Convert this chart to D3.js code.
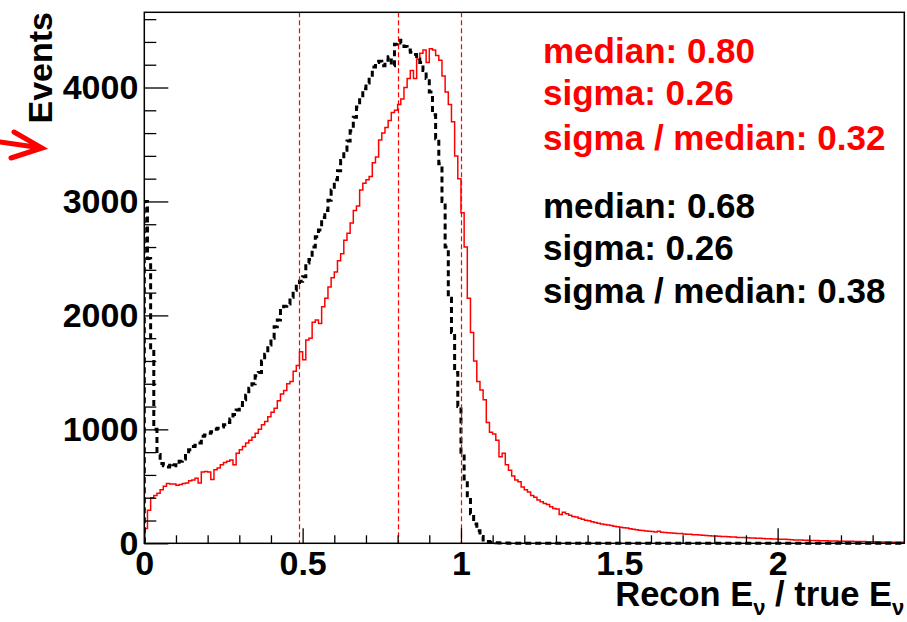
<!DOCTYPE html>
<html>
<head>
<meta charset="utf-8">
<script src="https://cdn.jsdelivr.net/npm/d3@7"></script>
<style>
html,body{margin:0;padding:0;background:#fff;}
text{font-family:"Liberation Sans",Arial,Helvetica,sans-serif;font-weight:bold;}
</style>
</head>
<body>
<svg id="chart" width="907" height="622"></svg>
<script>
// ---- data ----
const binWidth = 0.01;
const xDomain = [0, 2.4];
const yDomain = [0, 4660];
const yMajorTicks = [0, 1000, 2000, 3000, 4000];
const xMajorTicks = [0, 0.5, 1, 1.5, 2];
const xTickLabels = ["0", "0.5", "1", "1.5", "2"];
const yTickLabels = ["0", "1000", "2000", "3000", "4000"];
const vLines = [0.49, 0.80, 1.00];

// red (solid) histogram, 240 bins of 0.01 from 0 to 2.4
const redValues = [
 130,290,400,420,440,470,500,525,520,520,
 510,515,525,530,550,555,570,530,625,630,
 625,560,645,660,690,710,720,730,690,790,
 820,850,880,905,930,965,1000,1040,1070,1110,
 1150,1185,1250,1310,1340,1400,1420,1510,1560,1680,
 1610,1785,1800,1940,1960,1930,2075,2150,2250,2330,
 2380,2480,2540,2660,2720,2810,2920,2960,3100,3160,
 3190,3220,3340,3390,3540,3600,3650,3710,3780,3800,
 3850,3900,4000,4080,4150,4080,4250,4300,4330,4220,
 4340,4330,4280,4240,4100,3960,3850,3700,3400,3200,
 2900,2600,2150,1850,1600,1420,1345,1260,1060,975,
 960,905,760,790,690,640,590,555,540,495,
 470,450,420,405,380,365,350,340,320,305,
 300,252,272,260,246,236,230,220,212,203,
 198,190,182,176,170,166,160,156,150,146,
 141,136,134,128,123,120,115,113,108,106,
 103,100,106,98,95,93,90,89,86,85,
 82,80,79,76,75,72,71,68,67,64,
 63,62,60,59,57,56,55,52,52,50,
 49,47,47,44,44,42,41,39,38,37,
 36,35,35,33,32,30,30,28,27,26,
 25,24,25,23,22,22,21,20,20,19,
 18,18,17,17,16,16,15,15,14,14,
 13,13,12,12,11,11,10,10,9,9
];

// black (dashed) histogram, 240 bins of 0.01 from 0 to 2.4
const blackValues = [
 3000,2500,1700,1000,780,700,680,670,700,690,
 680,720,740,790,820,850,860,880,940,950,
 965,980,1000,1010,1020,1040,1060,1090,1130,1170,
 1210,1260,1300,1360,1400,1470,1500,1600,1660,1740,
 1800,1900,1960,2060,2080,2100,2160,2220,2270,2300,
 2340,2460,2490,2600,2690,2750,2860,2920,3010,3100,
 3190,3270,3360,3450,3530,3620,3740,3830,3910,3990,
 4040,4090,4180,4220,4230,4190,4240,4270,4190,4380,
 4415,4390,4360,4330,4310,4290,4250,4220,4150,4080,
 3960,3760,3550,3330,3000,2600,2150,1850,1500,1200,
 800,550,400,260,170,110,60,30,15,10,
 6,4,3,2,2,1,1,0,0,0,
 0,0,0,0,0,0,0,0,0,0, 0,0,0,0,0,0,0,0,0,0,
 0,0,0,0,0,0,0,0,0,0, 0,0,0,0,0,0,0,0,0,0,
 0,0,0,0,0,0,0,0,0,0, 0,0,0,0,0,0,0,0,0,0,
 0,0,0,0,0,0,0,0,0,0, 0,0,0,0,0,0,0,0,0,0,
 0,0,0,0,0,0,0,0,0,0, 0,0,0,0,0,0,0,0,0,0,
 0,0,0,0,0,0,0,0,0,0, 0,0,0,0,0,0,0,0,0,0
];

const redStats = ["median: 0.80", "sigma: 0.26", "sigma / median: 0.32"];
const blackStats = ["median: 0.68", "sigma: 0.26", "sigma / median: 0.38"];

// ---- layout ----
const L = 144.3, R = 904.3, T = 12.3, B = 543.3;
const svg = d3.select("#chart");
const x = d3.scaleLinear().domain(xDomain).range([L, R]);
const y = d3.scaleLinear().domain(yDomain).range([B, T]);

svg.append("defs").append("clipPath").attr("id", "clip")
  .append("rect").attr("x", L).attr("y", T - 2).attr("width", R - L).attr("height", B - T + 4);

function stepPath(vals) {
  const pts = [[x(0), y(0)]];
  vals.forEach((v, i) => {
    pts.push([x(i * binWidth), y(v)]);
    pts.push([x((i + 1) * binWidth), y(v)]);
  });
  return d3.line()(pts);
}

const g = svg.append("g").attr("clip-path", "url(#clip)");
g.append("path").attr("d", stepPath(redValues))
  .attr("fill", "none").attr("stroke", "#ff0000").attr("stroke-width", 1.5);
g.append("path").attr("d", stepPath(blackValues))
  .attr("fill", "none").attr("stroke", "#000").attr("stroke-width", 3)
  .attr("stroke-dasharray", "6,4");

// vertical dashed lines (snapped to pixel centres)
const snap = v => Math.round(v) + 0.5;
svg.selectAll(".vline").data(vLines).enter().append("line")
  .attr("x1", d => snap(x(d))).attr("x2", d => snap(x(d)))
  .attr("y1", T).attr("y2", B)
  .attr("stroke", "#ff0000").attr("stroke-width", 1.2).attr("stroke-dasharray", "5,3");

// frame
svg.append("rect").attr("x", L).attr("y", T).attr("width", R - L).attr("height", B - T)
  .attr("fill", "none").attr("stroke", "#000").attr("stroke-width", 1.5);

// y axis
const yMinor = d3.range(0, 4601, 200).filter(v => v % 1000 !== 0);
svg.append("g").attr("transform", `translate(${L},0)`)
  .call(d3.axisLeft(y).tickValues(yMinor).tickSize(-12).tickFormat(""))
  .call(a => a.select(".domain").remove())
  .selectAll("line").attr("stroke-width", 1.3);
const yAx = svg.append("g").attr("transform", `translate(${L},0)`)
  .call(d3.axisLeft(y).tickValues(yMajorTicks).tickSize(-24).tickPadding(6)
    .tickFormat((d, i) => yTickLabels[i]));
yAx.select(".domain").remove();
yAx.selectAll("line").attr("stroke-width", 1.3);
yAx.selectAll("text").attr("font-size", 34).attr("fill", "#000")
  .style("font-family", "'Liberation Sans',Arial,sans-serif").style("font-weight", "bold");

// x axis
const xMinor = d3.range(0, 24).map(i => i / 10).filter(v => Math.abs(v * 2 - Math.round(v * 2)) > 1e-6);
svg.append("g").attr("transform", `translate(0,${B})`)
  .call(d3.axisBottom(x).tickValues(xMinor).tickSize(-8).tickFormat(""))
  .call(a => a.select(".domain").remove())
  .selectAll("line").attr("stroke-width", 1.3);
const xAx = svg.append("g").attr("transform", `translate(0,${B})`)
  .call(d3.axisBottom(x).tickValues(xMajorTicks).tickSize(-15).tickPadding(8)
    .tickFormat((d, i) => xTickLabels[i]));
xAx.select(".domain").remove();
xAx.selectAll("line").attr("stroke-width", 1.3);
xAx.selectAll("text").attr("font-size", 34).attr("fill", "#000")
  .style("font-family", "'Liberation Sans',Arial,sans-serif").style("font-weight", "bold");

// axis titles
svg.append("text").attr("transform", "translate(52,12) rotate(-90)")
  .attr("text-anchor", "end").attr("font-size", 34).text("Events");

const xt = svg.append("text").attr("x", R).attr("y", 606).attr("text-anchor", "end").attr("font-size", 34.5);
xt.append("tspan").text("Recon E");
xt.append("tspan").attr("font-size", 22).attr("dy", 9).text("ν");
xt.append("tspan").attr("dy", -9).text(" / true E");
xt.append("tspan").attr("font-size", 22).attr("dy", 9).text("ν");

// stats text
const statY1 = [63, 105, 150];
const statY2 = [218, 260, 303];
redStats.forEach((s, i) => svg.append("text").attr("x", 543).attr("y", statY1[i])
  .attr("font-size", 35).attr("fill", "#ff0000").text(s));
blackStats.forEach((s, i) => svg.append("text").attr("x", 543).attr("y", statY2[i])
  .attr("font-size", 35).attr("fill", "#000").text(s));

// red arrow mark at left
svg.append("path").attr("d", "M0,142 L42,148 M14,132 L42,148 L11,158")
  .attr("fill", "none").attr("stroke", "#ff0000").attr("stroke-width", 5)
  .attr("stroke-linecap", "round").attr("stroke-linejoin", "miter");
</script>
</body>
</html>
